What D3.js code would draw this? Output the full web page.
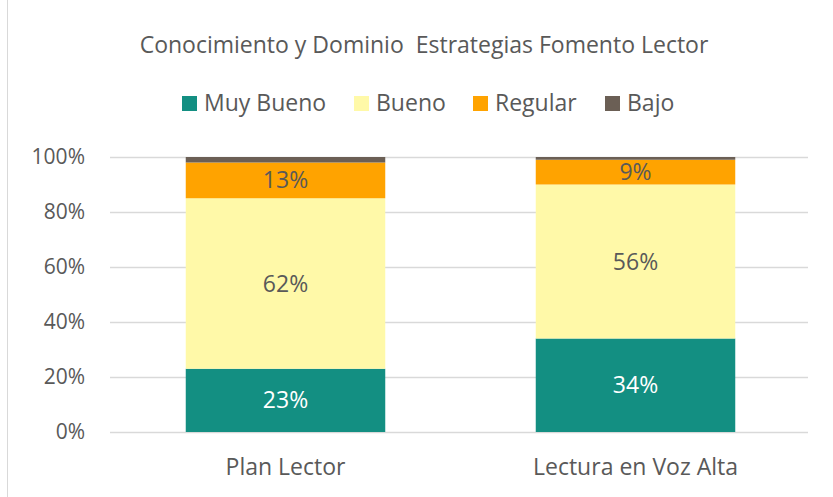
<!DOCTYPE html>
<html>
<head>
<meta charset="utf-8">
<script src="https://cdn.jsdelivr.net/npm/d3@7"></script>
<style>
  body { margin: 0; background: #fff; }
  svg { font-family: "Open Sans", "Lato", sans-serif; }
</style>
</head>
<body>
<svg id="chart" width="833" height="497"></svg>
<script>
// data
var categories = ['Plan Lector', 'Lectura en Voz Alta'];
var seriesNames = ['Muy Bueno', 'Bueno', 'Regular', 'Bajo'];
var muyBueno = [23, 34];
var bueno = [62, 56];
var regular = [13, 9];
var bajo = [2, 1];
var yTicks = [0, 20, 40, 60, 80, 100];

var colors = ['#138f82', '#fff9a8', '#ffa300', '#6b5f55'];
var labelColors = ['#ffffff', '#595959', '#595959', '#595959'];

var rows = categories.map(function(c, i){
  return { cat: c, 'Muy Bueno': muyBueno[i], 'Bueno': bueno[i], 'Regular': regular[i], 'Bajo': bajo[i] };
});

var svg = d3.select('#chart');

// chart frame (only the left edge shows)
svg.append('rect')
  .attr('x', 7.5).attr('y', -2)
  .attr('width', 840).attr('height', 510)
  .attr('fill', 'none').attr('stroke', '#d9d9d9');

var x = d3.scaleBand().domain(categories).range([110.5, 810.5]).paddingInner(0.43).paddingOuter(0.215);
var y = d3.scaleLinear().domain([0, 100]).range([432, 157]);

// gridlines
svg.append('g').selectAll('line').data(yTicks).enter().append('line')
  .attr('x1', 110).attr('x2', 808)
  .attr('y1', function(d){ return y(d) + 0.5; })
  .attr('y2', function(d){ return y(d) + 0.5; })
  .attr('stroke', '#d9d9d9').attr('stroke-width', 1.3);

// y axis labels
var yAxis = d3.axisLeft(y).tickValues(yTicks).tickSize(0).tickPadding(0)
  .tickFormat(function(d){ return d + '%'; });
var gy = svg.append('g').attr('transform', 'translate(85,0)').call(yAxis);
gy.select('.domain').remove();
gy.selectAll('text').attr('fill', '#595959').style('font-size', '21px').style('font-family', '"Open Sans", sans-serif');

// stacked bars
var stack = d3.stack().keys(seriesNames);
var layers = stack(rows);

var layerG = svg.append('g').selectAll('g').data(layers).enter().append('g')
  .attr('fill', function(d, i){ return colors[i]; });

layerG.selectAll('rect').data(function(d){ return d; }).enter().append('rect')
  .attr('x', function(d){ return x(d.data.cat); })
  .attr('width', x.bandwidth())
  .attr('y', function(d){ return y(d[1]); })
  .attr('height', function(d){ return y(d[0]) - y(d[1]); });

// data labels (not for Bajo)
layers.forEach(function(layer, i){
  if (seriesNames[i] === 'Bajo') return;
  svg.append('g').selectAll('text').data(layer).enter().append('text')
    .attr('x', function(d){ return x(d.data.cat) + x.bandwidth() / 2; })
    .attr('y', function(d){ return (y(d[0]) + y(d[1])) / 2; })
    .attr('dy', '0.35em')
    .attr('text-anchor', 'middle')
    .attr('fill', labelColors[i])
    .style('font-size', '23px')
    .text(function(d){ return (d[1] - d[0]) + '%'; });
});

// x axis labels
var xAxis = d3.axisBottom(x).tickSize(0).tickPadding(0);
var gx = svg.append('g').attr('transform', 'translate(0,467)').call(xAxis);
gx.select('.domain').remove();
gx.selectAll('text').attr('fill', '#595959').attr('dy', '0.35em')
  .style('font-size', '23px').style('font-family', '"Open Sans", sans-serif');

// title
svg.append('text')
  .attr('x', 424).attr('y', 45)
  .attr('dy', '0.35em')
  .attr('text-anchor', 'middle')
  .attr('fill', '#595959')
  .style('font-size', '23px')
  .attr('xml:space', 'preserve')
  .text('Conocimiento y Dominio  Estrategias Fomento Lector');

// legend
var legendX = [182, 354, 473, 605];
var legend = svg.append('g').selectAll('g').data(seriesNames).enter().append('g')
  .attr('transform', function(d, i){ return 'translate(' + legendX[i] + ',103)'; });
legend.append('rect')
  .attr('x', 0).attr('y', -7).attr('width', 15).attr('height', 15)
  .attr('fill', function(d, i){ return colors[i]; });
legend.append('text')
  .attr('x', 22).attr('dy', '0.35em')
  .attr('fill', '#595959')
  .style('font-size', '23px')
  .text(function(d){ return d; });
</script>
</body>
</html>
